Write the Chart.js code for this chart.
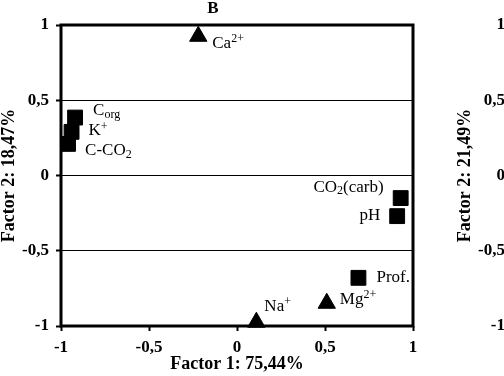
<!DOCTYPE html>
<html>
<head>
<meta charset="utf-8">
<script src="https://cdn.jsdelivr.net/npm/chart.js@4/dist/chart.umd.min.js"></script>
<style>
  html, body { margin: 0; padding: 0; background: #fff; }
  #wrap { position: relative; width: 504px; height: 376px; overflow: hidden; background: #fff; }
  .panel { position: absolute; top: 0; width: 504px; height: 376px; }
</style>
</head>
<body>
<div id="wrap">
  <div class="panel" style="left:0"><canvas id="chartB" width="504" height="376"></canvas></div>
  <div class="panel" style="left:456px"><canvas id="chartC" width="504" height="376"></canvas></div>
</div>
<script>
// ── Data ──
var squareNames = [
  [['C', ''], ['org', 'sub']],
  [['K', ''], ['+', 'sup']],
  [['C-CO', ''], ['2', 'sub']],
  [['CO', ''], ['2', 'sub'], ['(carb)', '']],
  [['pH', '']],
  [['Prof.', '']]
];
var squareX = [-0.92, -0.94, -0.96, 0.93, 0.91, 0.69];
var squareY = [0.385, 0.29, 0.21, -0.15, -0.27, -0.68];

var triangleNames = [
  [['Ca', ''], ['2+', 'sup']],
  [['Na', ''], ['+', 'sup']],
  [['Mg', ''], ['2+', 'sup']]
];
var triangleX = [-0.22, 0.11, 0.51];
var triangleY = [0.925, -0.975, -0.849];

var axisTicks = [-1, -0.5, 0, 0.5, 1];
var panelTitle = 'B';
var xTitle = 'Factor 1: 75,44%';
var yTitle = 'Factor 2: 18,47%';
var yTitleNext = 'Factor 2: 21,49%';

// ── Label placement (offset from the marker, px) ──
var squareLabelPos = [
  { dx: 18, dy: -7, align: 'left' },
  { dx: 17, dy: -1, align: 'left' },
  { dx: 17, dy: 7, align: 'left' },
  { dx: -17, dy: -11, align: 'right' },
  { dx: -17, dy: -1, align: 'right' },
  { dx: 18, dy: 0, align: 'left' }
];
var triangleLabelPos = [
  { dx: 14, dy: 7, align: 'left' },
  { dx: 8, dy: -16, align: 'left' },
  { dx: 13, dy: -4, align: 'left' }
];

var FONT = "'Liberation Serif', 'Times New Roman', serif";

function toPoints(xs, ys) {
  return xs.map(function(x, i) { return { x: x, y: ys[i] }; });
}

function fmtTick(v) {
  return String(v).replace('.', ',');
}

// ── Rich text (sub / superscript) ──
function partFont(kind) {
  return (kind ? '12px ' : '17px ') + FONT;
}

function richWidth(ctx, parts) {
  var w = 0;
  parts.forEach(function(p) {
    ctx.font = partFont(p[1]);
    w += ctx.measureText(p[0]).width;
  });
  return w;
}

function drawRich(ctx, parts, x, y, align) {
  var start = align === 'right' ? x - richWidth(ctx, parts) : x;
  ctx.textBaseline = 'middle';
  ctx.textAlign = 'left';
  parts.forEach(function(p) {
    ctx.font = partFont(p[1]);
    var yy = y;
    if (p[1] === 'sup') yy = y - 4;
    if (p[1] === 'sub') yy = y + 4;
    ctx.fillText(p[0], start, yy);
    start += ctx.measureText(p[0]).width;
  });
}

// ── Plugins ──
var framePlugin = {
  id: 'frame',
  beforeDatasetsDraw: function(chart) {
    var a = chart.chartArea;
    var ctx = chart.ctx;
    ctx.save();
    ctx.strokeStyle = '#000';
    ctx.lineWidth = 3;
    ctx.strokeRect(a.left, a.top, a.right - a.left, a.bottom - a.top);
    ctx.restore();
  }
};

var pointLabelPlugin = {
  id: 'pointLabels',
  afterDatasetsDraw: function(chart) {
    var ctx = chart.ctx;
    ctx.save();
    ctx.fillStyle = '#000';
    chart.data.datasets.forEach(function(ds, di) {
      var meta = chart.getDatasetMeta(di);
      meta.data.forEach(function(el, i) {
        var pos = ds.labelPos[i];
        drawRich(ctx, ds.names[i], el.x + pos.dx, el.y + pos.dy, pos.align);
      });
    });
    // panel letter
    ctx.font = 'bold 17px ' + FONT;
    ctx.textAlign = 'center';
    ctx.textBaseline = 'middle';
    ctx.fillText(panelTitle, 213, 9);
    ctx.restore();
  }
};

function baseOptions(yText) {
  return {
    responsive: false,
    animation: false,
    layout: { padding: { top: 25, right: 91, left: 0, bottom: 0 } },
    plugins: {
      legend: { display: false },
      tooltip: { enabled: false },
      title: { display: false }
    },
    scales: {
      x: {
        type: 'linear',
        min: -1,
        max: 1,
        afterFit: function(s) { s.height = 50; },
        afterBuildTicks: function(s) { s.ticks = axisTicks.map(function(v) { return { value: v }; }); },
        border: { display: false },
        grid: { drawOnChartArea: false, drawTicks: true, tickLength: 5, tickWidth: 2, tickColor: '#000' },
        ticks: {
          padding: 6,
          color: '#000',
          font: { family: FONT, size: 17, weight: 'bold' },
          callback: fmtTick
        },
        title: {
          display: true,
          text: xTitle,
          color: '#000',
          padding: { top: 0, bottom: 1 },
          font: { family: FONT, size: 18, weight: 'bold', lineHeight: 1.2 }
        }
      },
      y: {
        type: 'linear',
        min: -1,
        max: 1,
        afterFit: function(s) { s.width = 61; },
        afterBuildTicks: function(s) { s.ticks = axisTicks.map(function(v) { return { value: v }; }); },
        border: { display: false },
        grid: { color: '#000', lineWidth: 1, drawTicks: true, tickLength: 5, tickWidth: 2, tickColor: '#000' },
        ticks: {
          padding: 7,
          color: '#000',
          font: { family: FONT, size: 17, weight: 'bold' },
          callback: fmtTick
        },
        title: {
          display: true,
          text: yText,
          color: '#000',
          padding: { top: 0, bottom: 0 },
          font: { family: FONT, size: 18, weight: 'bold', lineHeight: 1 }
        }
      }
    }
  };
}

new Chart(document.getElementById('chartB').getContext('2d'), {
  type: 'scatter',
  data: {
    datasets: [
      {
        label: 'squares',
        data: toPoints(squareX, squareY),
        names: squareNames,
        labelPos: squareLabelPos,
        pointStyle: 'rect',
        pointRadius: 10.5,
        backgroundColor: '#000',
        borderColor: '#000',
        borderWidth: 1,
        clip: false
      },
      {
        label: 'triangles',
        data: toPoints(triangleX, triangleY),
        names: triangleNames,
        labelPos: triangleLabelPos,
        pointStyle: 'triangle',
        pointRadius: 10,
        backgroundColor: '#000',
        borderColor: '#000',
        borderWidth: 1,
        clip: false
      }
    ]
  },
  options: baseOptions(yTitle),
  plugins: [framePlugin, pointLabelPlugin]
});

// next panel, only its left axis shows inside the window
new Chart(document.getElementById('chartC').getContext('2d'), {
  type: 'scatter',
  data: { datasets: [] },
  options: baseOptions(yTitleNext)
});
</script>
</body>
</html>
